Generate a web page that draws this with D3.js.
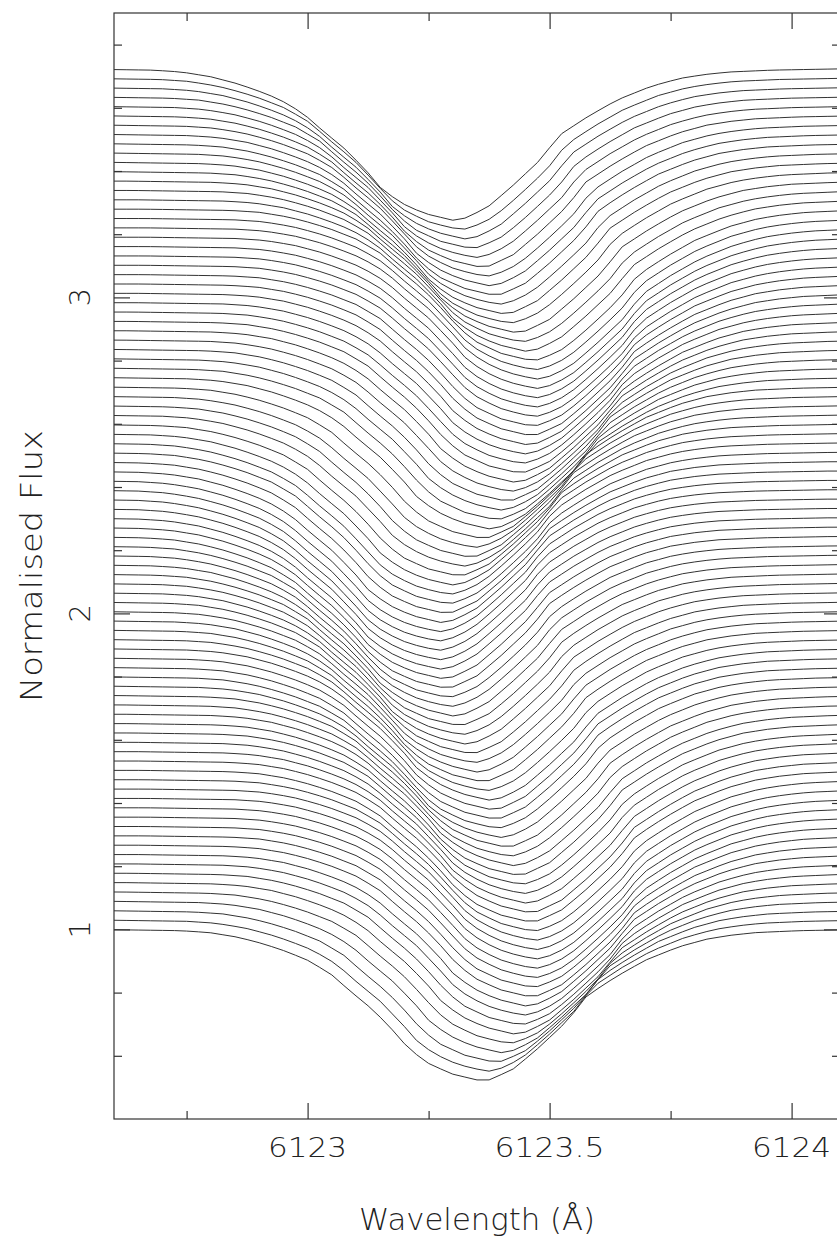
<!DOCTYPE html>
<html>
<head>
<meta charset="utf-8">
<script src="https://cdn.jsdelivr.net/npm/d3@7"></script>
<style>
  html, body { margin: 0; padding: 0; background: #fff; }
  svg { display: block; }
  text { font-family: "DejaVu Sans", "Liberation Sans", sans-serif; font-weight: 200; fill: #222; }
</style>
</head>
<body>
<svg id="chart" width="837" height="1239"></svg>
<script>
// Line centre (Å) of every spectrum in the time series, bottom to top
const lineCentres = [
  6123.357, 6123.370, 6123.384, 6123.399, 6123.413, 6123.426, 6123.436, 6123.444, 6123.450, 6123.457,
  6123.461, 6123.465, 6123.467, 6123.469, 6123.469, 6123.467, 6123.463, 6123.457, 6123.455, 6123.450,
  6123.444, 6123.438, 6123.430, 6123.424, 6123.415, 6123.407, 6123.397, 6123.388, 6123.382, 6123.378,
  6123.374, 6123.366, 6123.357, 6123.349, 6123.341, 6123.333, 6123.324, 6123.316, 6123.308, 6123.300,
  6123.293, 6123.287, 6123.281, 6123.277, 6123.273, 6123.271, 6123.269, 6123.269, 6123.271, 6123.275,
  6123.281, 6123.287, 6123.291, 6123.298, 6123.308, 6123.320, 6123.331, 6123.343, 6123.357, 6123.374,
  6123.386, 6123.397, 6123.407, 6123.417, 6123.426, 6123.434, 6123.440, 6123.446, 6123.452, 6123.457,
  6123.461, 6123.465, 6123.467, 6123.469, 6123.471, 6123.471, 6123.467, 6123.461, 6123.450, 6123.440,
  6123.428, 6123.415, 6123.403, 6123.393, 6123.382, 6123.374, 6123.366, 6123.355, 6123.345, 6123.335,
  6123.324, 6123.314, 6123.300
];

// Mean absorption profile: offset from the line centre (Å) and depth below the continuum
const profileOffsets = [-0.80, -0.62, -0.56, -0.50, -0.45, -0.41, -0.36, -0.31, -0.27, -0.22, -0.17, -0.15, -0.11, -0.06,
                        0.00, 0.02, 0.07, 0.12, 0.18, 0.22, 0.28, 0.34, 0.41, 0.47, 0.52, 0.57, 0.66, 0.80];
const profileDepths  = [0.000, 0.004, 0.010, 0.025, 0.045, 0.065, 0.095, 0.140, 0.194, 0.257, 0.337, 0.375, 0.422, 0.457,
                        0.479, 0.476, 0.440, 0.375, 0.289, 0.210, 0.150, 0.098, 0.055, 0.030, 0.018, 0.010, 0.004, 0.000];

// Vertical shift between consecutive spectra (normalised flux units)
const stackStep = 0.0296;
// Pixel size of the spectrograph (Å)
const sampleStep = 0.025;

const xMajorTicks = [6123, 6123.5, 6124];
const xMinorTicks = [6122.75, 6123.25, 6123.75];
const xTickLabels = ["6123", "6123.5", "6124"];
const yMajorTicks = [1, 2, 3];
const yMinorTicks = [0.6, 0.8, 1.2, 1.4, 1.6, 1.8, 2.2, 2.4, 2.6, 2.8, 3.2, 3.4, 3.6, 3.8];
const yTickLabels = ["1", "2", "3"];

const frame = { left: 114, right: 840, top: 13, bottom: 1119 };
const svg = d3.select("#chart");

const x = d3.scaleLinear().domain([6122.6, 6124.1]).range([frame.left, frame.right]);
const y = d3.scaleLinear().domain([0.4, 3.9]).range([frame.bottom, frame.top]);

// Depth of the line at a given offset from its centre
const profile = d3.scaleLinear().domain(profileOffsets).range(profileDepths).clamp(true);
const grid = d3.range(6122.6, 6124.1 + sampleStep / 2, sampleStep);

const spectra = lineCentres.map((centre, i) =>
  grid.map(w => ({ w, f: 1 + i * stackStep - profile(w - centre) }))
);

svg.append("clipPath").attr("id", "plot-area")
  .append("rect")
  .attr("x", frame.left).attr("y", frame.top)
  .attr("width", frame.right - frame.left).attr("height", frame.bottom - frame.top);

const line = d3.line().x(d => x(d.w)).y(d => y(d.f));

svg.append("g")
  .attr("clip-path", "url(#plot-area)")
  .selectAll("path")
  .data(spectra)
  .join("path")
  .attr("d", line)
  .attr("fill", "none")
  .attr("stroke", "#333")
  .attr("stroke-width", 1);

// Frame
svg.append("rect")
  .attr("x", frame.left).attr("y", frame.top)
  .attr("width", frame.right - frame.left).attr("height", frame.bottom - frame.top)
  .attr("fill", "none").attr("stroke", "#333").attr("stroke-width", 1.2);

// Inward ticks on all four sides
function ticks(axis, transform, values, size) {
  svg.append("g")
    .attr("transform", transform)
    .call(axis.tickValues(values).tickSize(-size).tickFormat(""))
    .call(g => g.select(".domain").remove())
    .call(g => g.selectAll("line").attr("stroke", "#333").attr("stroke-width", 1.2));
}
ticks(d3.axisBottom(x), `translate(0,${frame.bottom})`, xMajorTicks, 16);
ticks(d3.axisBottom(x), `translate(0,${frame.bottom})`, xMinorTicks, 8);
ticks(d3.axisTop(x), `translate(0,${frame.top})`, xMajorTicks, 16);
ticks(d3.axisTop(x), `translate(0,${frame.top})`, xMinorTicks, 8);
ticks(d3.axisLeft(y), `translate(${frame.left},0)`, yMajorTicks, 16);
ticks(d3.axisLeft(y), `translate(${frame.left},0)`, yMinorTicks, 8);
ticks(d3.axisRight(y), `translate(${frame.right},0)`, yMajorTicks, 16);
ticks(d3.axisRight(y), `translate(${frame.right},0)`, yMinorTicks, 8);

// Tick labels
svg.append("g").selectAll("text")
  .data(xMajorTicks)
  .join("text")
  .attr("x", d => x(d))
  .attr("y", 1157)
  .attr("text-anchor", "middle")
  .attr("font-size", 27)
  .attr("textLength", (d, i) => xTickLabels[i].length > 4 ? 110 : 79)
  .attr("lengthAdjust", "spacingAndGlyphs")
  .text((d, i) => xTickLabels[i]);

svg.append("g").selectAll("text")
  .data(yMajorTicks)
  .join("text")
  .attr("transform", d => `translate(90,${y(d)}) rotate(-90)`)
  .attr("text-anchor", "middle")
  .attr("font-size", 29)
  .text((d, i) => yTickLabels[i]);

// Axis titles
svg.append("text")
  .attr("x", (frame.left + frame.right) / 2)
  .attr("y", 1230)
  .attr("text-anchor", "middle")
  .attr("font-size", 30)
  .attr("textLength", 236)
  .attr("lengthAdjust", "spacingAndGlyphs")
  .text("Wavelength (Å)");

svg.append("text")
  .attr("transform", `translate(42,${(frame.top + frame.bottom) / 2}) rotate(-90)`)
  .attr("text-anchor", "middle")
  .attr("font-size", 31)
  .attr("textLength", 272)
  .attr("lengthAdjust", "spacingAndGlyphs")
  .text("Normalised Flux");
</script>
</body>
</html>
